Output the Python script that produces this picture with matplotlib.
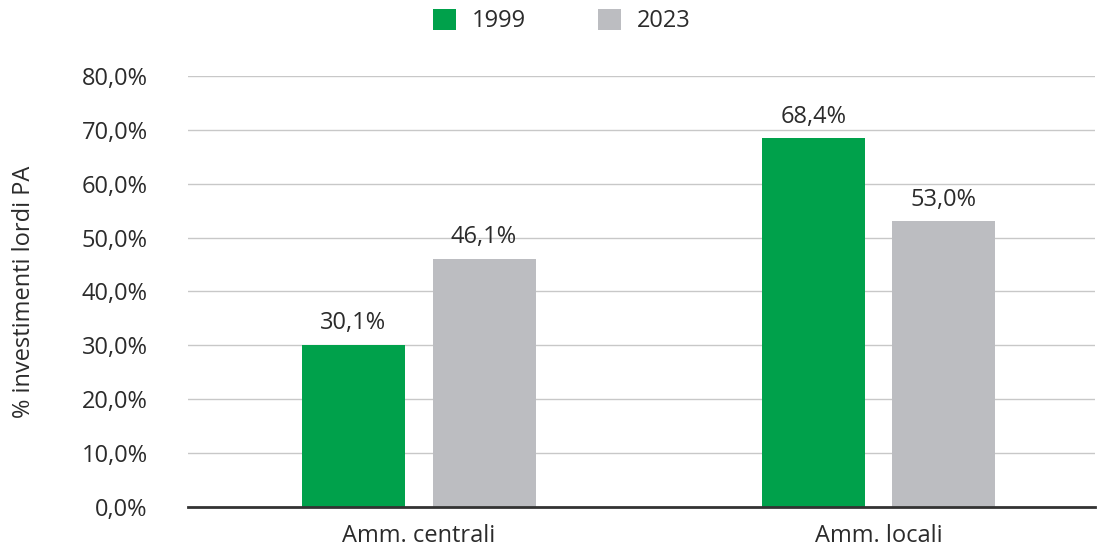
import numpy as np
import matplotlib.pyplot as plt

categories = ["Amm. centrali", "Amm. locali"]
series_names = ["1999", "2023"]
values_1999 = [30.1, 68.4]
values_2023 = [46.1, 53.0]
yticks = [0, 10, 20, 30, 40, 50, 60, 70, 80]

colors = ["#00A14B", "#BCBDC1"]
plt.rcParams['font.family'] = ['Open Sans', 'DejaVu Sans']
text_color = "#2b2b2b"
fs = 17

fig = plt.figure(figsize=(10.99, 5.47), dpi=100)
ax = fig.add_axes([0.171, 0.0731, 0.825, 0.788])

x = np.arange(len(categories))
width = 0.224
off = 0.142
for vals, name, col, sgn in zip([values_1999, values_2023], series_names, colors, [-1, 1]):
    bars = ax.bar(x + sgn * off, vals, width, color=col, label=name, zorder=3)
    ax.bar_label(bars, labels=[f"{v:.1f}%".replace(".", ",") for v in vals],
                 padding=7, fontsize=fs, color=text_color)

ax.set_ylim(0, 80)
ax.set_xlim(-0.502, 1.47)
ax.set_yticks(yticks)
ax.set_yticklabels([f"{v:.1f}%".replace(".", ",") for v in yticks], fontsize=fs, color=text_color)
ax.set_xticks(x)
ax.set_xticklabels(categories, fontsize=fs, color=text_color)
ax.tick_params(axis='y', length=0, pad=29)
ax.tick_params(axis='x', length=0, pad=12)
ax.grid(axis='y', color="#c8c8c8", linewidth=1, zorder=0)
for s in ["top", "right", "left"]:
    ax.spines[s].set_visible(False)
ax.spines["bottom"].set_color("#333333")
ax.spines["bottom"].set_linewidth(2)
ax.spines["bottom"].set_zorder(4)

ax.set_ylabel("% investimenti lordi PA", fontsize=fs, color=text_color)
ax.yaxis.set_label_coords(-0.1676, 0.5)

ax.legend(loc="center", bbox_to_anchor=(0.412, 1.1276), ncol=2, frameon=False,
          fontsize=fs, handlelength=1.0, handleheight=1.0, columnspacing=3.05,
          handletextpad=0.65, labelcolor=text_color)

fig.savefig("out.png", dpi=100)
